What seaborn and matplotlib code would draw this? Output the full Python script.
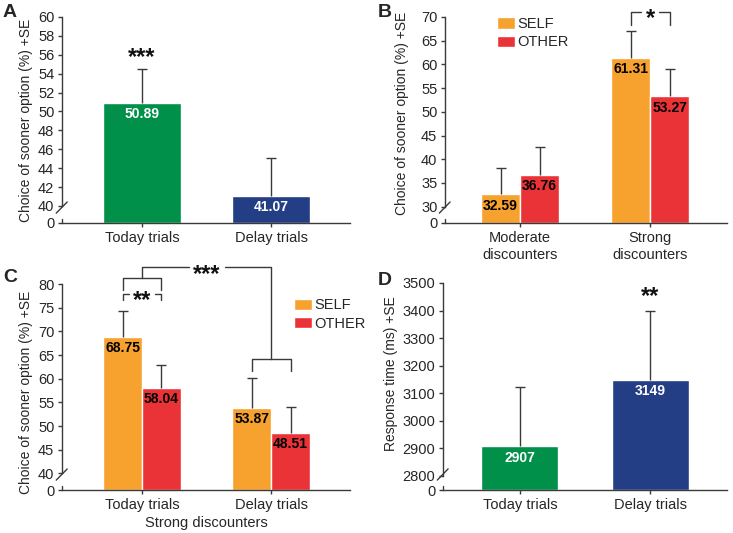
import numpy as np
import pandas as pd
import seaborn as sns
import matplotlib.pyplot as plt
from matplotlib.ticker import NullLocator

# Panel A: choice of sooner option, today vs delay
a_trials = ["Today trials", "Delay trials"]
a_mean = [50.89, 41.07]
a_se = [3.65, 3.97]

# Panel B: SELF / OTHER by discounter type
b_groups = ["Moderate\ndiscounters", "Strong\ndiscounters"]
b_agents = ["SELF", "OTHER"]
b_self = [32.59, 61.31]
b_other = [36.76, 53.27]
b_self_se = [5.6, 5.75]
b_other_se = [5.85, 5.8]

# Panel C: strong discounters, SELF / OTHER by trial type
c_trials = ["Today trials", "Delay trials"]
c_self = [68.75, 53.87]
c_other = [58.04, 48.51]
c_self_se = [5.45, 6.3]
c_other_se = [4.95, 5.6]

# Panel D: response time
d_trials = ["Today trials", "Delay trials"]
d_mean = [2907, 3149]
d_se = [215, 250]

GREEN = "#00904A"
NAVY = "#233E85"
ORANGE = "#F7A12F"
RED = "#EA3337"
LINE = "#3a3a3a"

sns.set_style("ticks")
plt.rcParams["font.family"] = ["Liberation Sans", "DejaVu Sans"]
plt.rcParams["font.size"] = 10
plt.rcParams["axes.edgecolor"] = LINE
plt.rcParams["axes.linewidth"] = 1.0

fig = plt.figure(figsize=(7.33, 5.33), dpi=100)
W, H = 733, 533


def px_axes(left, top, right, bottom):
    return fig.add_axes([left / W, 1 - bottom / H, (right - left) / W, (bottom - top) / H])


def broken_axis(ax, lo, top, gap, ticks):
    def fwd(v):
        v = np.asarray(v, dtype=float)
        return np.where(v >= lo, v - lo + gap, v * gap / lo)

    def inv(u):
        u = np.asarray(u, dtype=float)
        return np.where(u >= gap, u - gap + lo, u * lo / gap)

    ax.set_yscale("function", functions=(fwd, inv))
    ax.set_ylim(0, top)
    ax.set_yticks(ticks)
    ax.set_yticklabels([str(t) for t in ticks])
    ax.yaxis.set_minor_locator(NullLocator())
    sns.despine(ax=ax)
    ax.spines["left"].set_bounds(lo, top)
    ax.plot([0, 0], [0, 0.018], transform=ax.transAxes, color=LINE, lw=1, clip_on=False)
    ax.plot([-0.02, 0.018], [0.048, 0.102], transform=ax.transAxes, color=LINE, lw=1, clip_on=False)
    ax.tick_params(axis="both", length=3, width=1, color=LINE, pad=2.5, labelsize=10.5)
    ax.tick_params(axis="x", labelsize=10.5, pad=3)
    ax.set_xlabel("")


def add_errors(ax, se_lists):
    tops = []
    for cont, se in zip(ax.containers, se_lists):
        xs = [p.get_x() + p.get_width() / 2 for p in cont]
        hs = [p.get_height() for p in cont]
        eb = ax.errorbar(xs, hs, yerr=[np.zeros(len(se)), se], fmt="none", ecolor=LINE,
                         elinewidth=1, capsize=3.5, capthick=1, zorder=3)
        eb[1][0].set_visible(False)  # no cap at the bar top
        tops.append([(x, h + s) for x, h, s in zip(xs, hs, se)])
    return tops


def add_values(ax, fmt, colors):
    for cont, col in zip(ax.containers, colors):
        for p in cont:
            h = p.get_height()
            ax.annotate(fmt.format(h), (p.get_x() + p.get_width() / 2, h),
                        xytext=(0, -3), textcoords="offset points", ha="center", va="top",
                        fontsize=10, fontweight="bold", color=col, zorder=4)


def bracket(ax, x1, x2, y_top, y_bot, gap=0.0):
    mid = (x1 + x2) / 2
    kw = dict(color=LINE, lw=1, clip_on=False)
    ax.plot([x1, x1, mid - gap], [y_bot, y_top, y_top], **kw)
    ax.plot([mid + gap, x2, x2], [y_top, y_top, y_bot], **kw)


def stars(ax, x, y, s, dy=-5):
    ax.annotate(s, (x, y), xytext=(0, dy), textcoords="offset points", ha="center",
                va="center", fontsize=17, fontweight="bold", color="#111111",
                annotation_clip=False)


# ---- A ----
axA = px_axes(62, 17, 350, 223)
dfA = pd.DataFrame({"trial": a_trials, "value": a_mean})
sns.barplot(data=dfA, x="trial", y="value", hue="trial", palette=[GREEN, NAVY],
            width=0.6, saturation=1, legend=False, ax=axA)
axA.set_xlim(-0.62, 1.61)
broken_axis(axA, 40, 60, 1.8, [0] + list(range(40, 61, 2)))
axA.set_ylabel("Choice of sooner option (%) +SE", fontsize=10)
axA.yaxis.set_label_coords(-0.10, 0.5)
# hue == x gives one container per bar
topsA = add_errors(axA, [[s] for s in a_se])
add_values(axA, "{:.2f}", ["white", "white"])
xA, yA = topsA[0][0]
stars(axA, xA, yA, "***", dy=8)

# ---- B ----
axB = px_axes(445, 17, 727, 223)
dfB = pd.DataFrame({
    "group": b_groups * 2,
    "agent": [b_agents[0]] * 2 + [b_agents[1]] * 2,
    "value": b_self + b_other,
})
sns.barplot(data=dfB, x="group", y="value", hue="agent", palette=[ORANGE, RED],
            width=0.6, saturation=1, ax=axB)
axB.set_xlim(-0.577, 1.59)
broken_axis(axB, 30, 70, 3.44, [0] + list(range(30, 71, 5)))
axB.set_ylabel("Choice of sooner option (%) +SE", fontsize=10)
axB.yaxis.set_label_coords(-0.128, 0.53)
topsB = add_errors(axB, [b_self_se, b_other_se])
add_values(axB, "{:.2f}", ["black", "black"])
bx1 = topsB[0][1][0]
bx2 = topsB[1][1][0]
bracket(axB, bx1, bx2, 71.1, 68.3, gap=0.07)
stars(axB, (bx1 + bx2) / 2, 71.1, "*")
h, l = axB.get_legend_handles_labels()
axB.legend(h, l, loc="upper left", bbox_to_anchor=(0.185, 1.0), frameon=False,
           borderpad=0, borderaxespad=0, handlelength=1.25, handleheight=0.8,
           handletextpad=0.15, labelspacing=0.3, fontsize=10.5)

# ---- C ----
axC = px_axes(62, 284, 350, 490)
dfC = pd.DataFrame({
    "trial": c_trials * 2,
    "agent": [b_agents[0]] * 2 + [b_agents[1]] * 2,
    "value": c_self + c_other,
})
sns.barplot(data=dfC, x="trial", y="value", hue="agent", palette=[ORANGE, RED],
            width=0.6, saturation=1, ax=axC)
axC.set_xlim(-0.62, 1.61)
broken_axis(axC, 40, 80, 3.52, [0] + list(range(40, 81, 5)))
axC.set_ylabel("Choice of sooner option (%) +SE", fontsize=10)
axC.yaxis.set_label_coords(-0.10, 0.475)
axC.set_xlabel("Strong discounters", fontsize=10.5, labelpad=3)
topsC = add_errors(axC, [c_self_se, c_other_se])
add_values(axC, "{:.2f}", ["black", "black"])
t1, t2 = topsC[0][0][0], topsC[1][0][0]
d1, d2 = topsC[0][1][0], topsC[1][1][0]
bracket(axC, t1, t2, 77.9, 76.65, gap=0.1)
stars(axC, 0, 77.9, "**")
bracket(axC, t1, t2, 81.26, 78.74)
bracket(axC, d1, d2, 64.2, 61.6)
# top link: stem up from today bracket, across, down to delay bracket
kw = dict(color=LINE, lw=1, clip_on=False)
axC.plot([0, 0, 0.36], [81.26, 83.56, 83.56], **kw)
axC.plot([0.64, 1, 1], [83.56, 83.56, 64.2], **kw)
stars(axC, 0.5, 83.56, "***")
h, l = axC.get_legend_handles_labels()
axC.legend(h, l, loc="upper left", bbox_to_anchor=(0.805, 0.93), frameon=False,
           borderpad=0, borderaxespad=0, handlelength=1.25, handleheight=0.8,
           handletextpad=0.15, labelspacing=0.3, fontsize=10.5)

# ---- D ----
axD = px_axes(443, 283, 727, 490)
dfD = pd.DataFrame({"trial": d_trials, "value": d_mean})
sns.barplot(data=dfD, x="trial", y="value", hue="trial", palette=[GREEN, NAVY],
            width=0.59, saturation=1, legend=False, ax=axD)
axD.set_xlim(-0.59, 1.59)
broken_axis(axD, 2800, 3500, 50.9, [0] + list(range(2800, 3501, 100)))
axD.set_ylabel("Response time (ms) +SE", fontsize=10)
axD.yaxis.set_label_coords(-0.158, 0.56)
topsD = add_errors(axD, [[s] for s in d_se])
add_values(axD, "{:.0f}", ["white", "white"])
xD, yD = topsD[1][0]
stars(axD, xD, yD, "**", dy=10)

for letter, x, y in [("A", 3, 4), ("B", 378, 4), ("C", 3, 269), ("D", 378, 272)]:
    fig.text(x / W, 1 - y / H, letter, fontsize=14, fontweight="bold", ha="left", va="top")

fig.savefig("out.png", dpi=100)
